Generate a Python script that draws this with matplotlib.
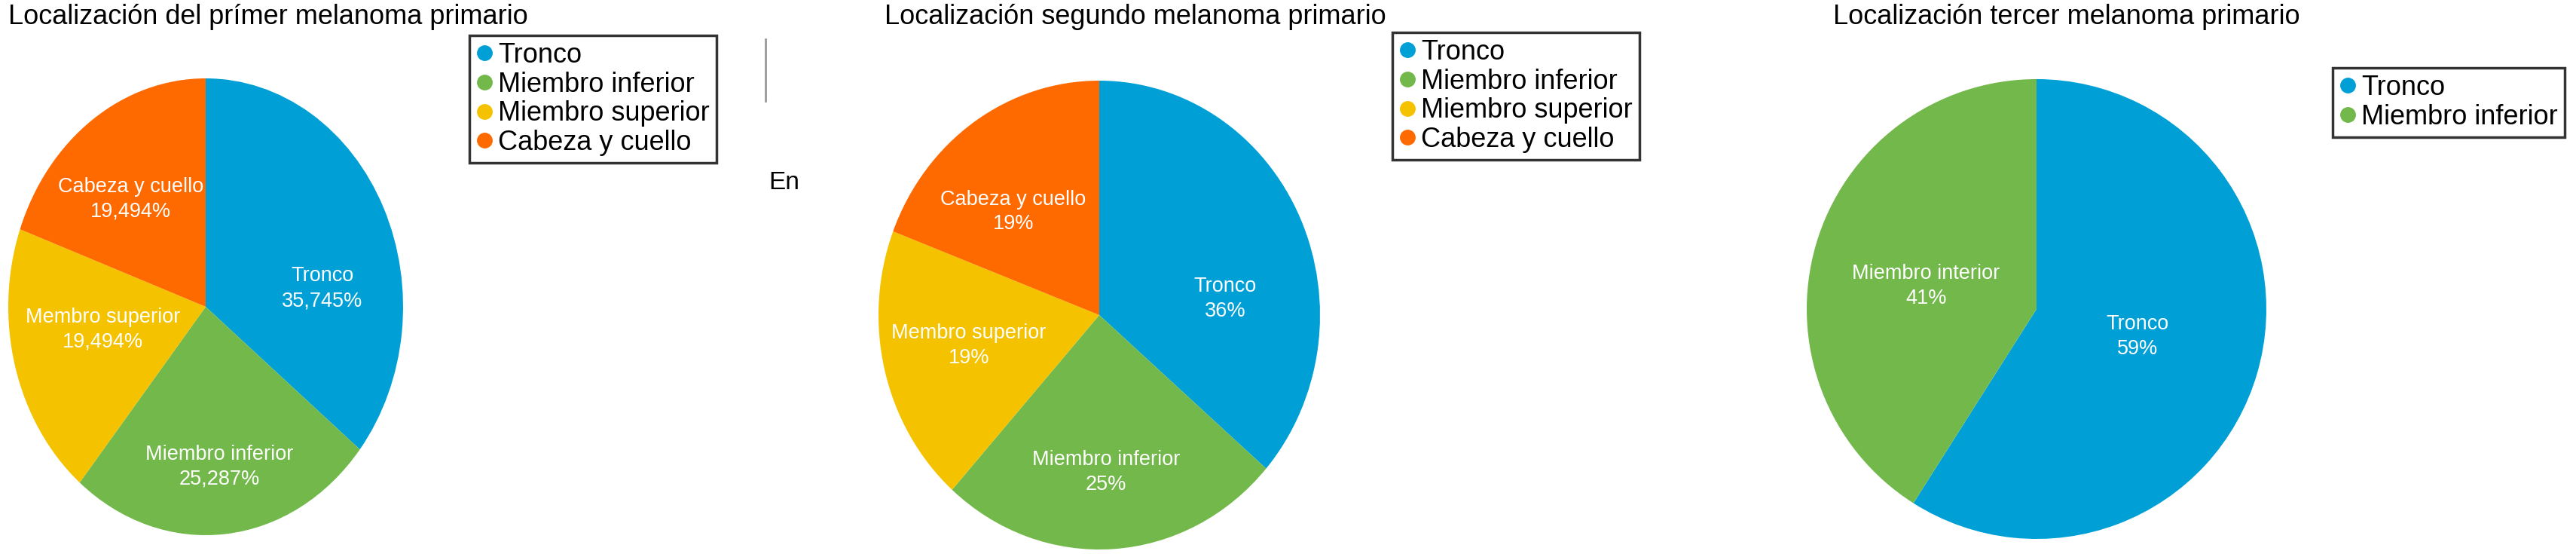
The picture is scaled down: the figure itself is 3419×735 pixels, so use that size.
import matplotlib
matplotlib.use("Agg")
import matplotlib.pyplot as plt
from matplotlib.lines import Line2D

plt.rcParams['font.family'] = ['Liberation Sans', 'DejaVu Sans']

W, H = 3419, 735

# data
titles = ['Localización del prímer melanoma primario',
          'Localización segundo melanoma primario',
          'Localización tercer melanoma primario']

slices1 = ['Tronco', 'Miembro inferior', 'Membro superior', 'Cabeza y cuello']
values1 = [35.745, 25.287, 19.494, 19.494]
pct1 = ['35,745%', '25,287%', '19,494%', '19,494%']

slices2 = ['Tronco', 'Miembro inferior', 'Membro superior', 'Cabeza y cuello']
values2 = [36, 25, 19, 19]
pct2 = ['36%', '25%', '19%', '19%']

slices3 = ['Tronco', 'Miembro interior']
values3 = [59, 41]
pct3 = ['59%', '41%']

legend4 = ['Tronco', 'Miembro inferior', 'Miembro superior', 'Cabeza y cuello']
legend2 = ['Tronco', 'Miembro inferior']

colors = ['#00a0d6', '#72b84a', '#f5c200', '#ff6a00']

# layout (pixels): pie centre x, centre y, radius x, radius y
pies = [(273, 407, 262, 303), (1459, 418, 293, 311), (2703, 410, 305, 305)]
label_xy = [[(0.59, 0.08), (0.07, -0.70), (-0.52, -0.10), (-0.38, 0.47)],
            [(0.57, 0.07), (0.03, -0.67), (-0.59, -0.13), (-0.39, 0.44)],
            [(0.44, -0.12), (-0.48, 0.10)]]
title_x = [11, 1174, 2433]
legend_pos = [(623, 47), (1848, 43), (3096, 90)]

fig = plt.figure(figsize=(W / 100, H / 100), dpi=100)

def px(x, y):
    return x / W, 1 - y / H

data = [(slices1, values1, pct1, legend4),
        (slices2, values2, pct2, legend4),
        (slices3, values3, pct3, legend2)]

for i, (names, vals, pcts, leg) in enumerate(data):
    cx, cy, rx, ry = pies[i]
    ax = fig.add_axes([(cx - rx) / W, 1 - (cy + ry) / H, 2 * rx / W, 2 * ry / H])
    ax.pie(vals, colors=colors[:len(vals)], startangle=90, counterclock=False,
           wedgeprops=dict(linewidth=0))
    ax.set_aspect('auto')
    ax.set_xlim(-1, 1)
    ax.set_ylim(-1, 1)
    ax.axis('off')
    for (lx, ly), n, p in zip(label_xy[i], names, pcts):
        ax.text(lx, ly, n + '\n' + p, color='white', fontsize=19.5, ha='center',
                va='center', linespacing=1.33)

    fig.text(*px(title_x[i], 32), titles[i], fontsize=26, ha='left', va='baseline')

    handles = [Line2D([], [], marker='o', linestyle='none', markersize=14,
                      markerfacecolor=colors[k], markeredgecolor=colors[k])
               for k in range(len(leg))]
    lg = fig.legend(handles, leg, loc='upper left', bbox_to_anchor=px(*legend_pos[i]),
                    fontsize=26, frameon=True, fancybox=False, borderaxespad=0,
                    handlelength=0.6, handletextpad=0.2, borderpad=0.25,
                    labelspacing=0.1)
    lg.get_frame().set_edgecolor('black')
    lg.get_frame().set_linewidth(2.5)

# stray marks from the source image
fig.add_artist(Line2D([1016 / W, 1016 / W], [1 - 52 / H, 1 - 134 / H], color='#999999', lw=2))
fig.text(*px(1020, 251), 'En', fontsize=24, ha='left', va='baseline')

fig.savefig('out.png', dpi=100)
